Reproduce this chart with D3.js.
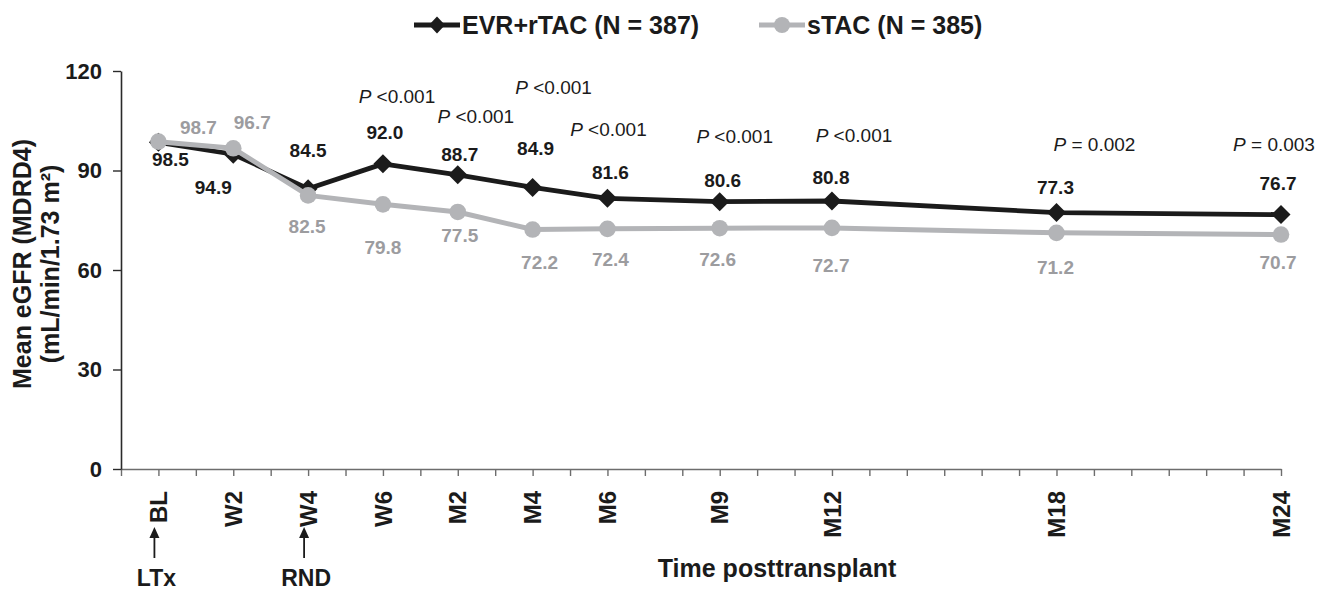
<!DOCTYPE html>
<html>
<head>
<meta charset="utf-8">
<script src="https://cdn.jsdelivr.net/npm/d3@7"></script>
<style>
  html, body { margin: 0; padding: 0; background: #fff; }
  svg { display: block; font-family: "Liberation Sans", Arial, Helvetica, sans-serif; }
</style>
</head>
<body>
<svg id="chart" width="1330" height="590"></svg>
<script>
// ---------------- data ----------------
const categories = ["BL", "W2", "W4", "W6", "M2", "M4", "M6", "M9", "M12", "M18", "M24"];
// position of each visit on the (piecewise) time axis, in axis units
const timeIndex = [0, 1, 2, 3, 4, 5, 6, 7.5, 9, 12, 15];
const evrValues = [98.5, 94.9, 84.5, 92.0, 88.7, 84.9, 81.6, 80.6, 80.8, 77.3, 76.7];
const stacValues = [98.7, 96.7, 82.5, 79.8, 77.5, 72.2, 72.4, 72.6, 72.7, 71.2, 70.7];
const pLabels = [null, null, null, "<0.001", "<0.001", "<0.001", "<0.001", "<0.001", "<0.001", "= 0.002", "= 0.003"];
const seriesNames = ["EVR+rTAC (N = 387)", "sTAC (N = 385)"];
const yTicks = [0, 30, 60, 90, 120];

// ---------------- layout (label placement, px) ----------------
const evrLabelOffset = [[12,17],[-20,33],[0,-38],[2,-31],[2,-20],[3,-39],[3,-26],[3,-21],[-1,-24],[-1,-25],[-3,-31]];
const stacLabelOffset = [[40,-14],[19,-26],[-1,31],[0,43],[2,24],[7,33],[3,31],[-2,31],[-1,38],[-1,35],[-3,28]];
const pLabelPos = [null,null,null,[14,96],[18,116],[21,87],[1,129],[15,136],[22,135],[38,144],[-7,144]];

const BLACK = "#1b1b1b";
const GRAY = "#b3b4b7";
const GRAY_TEXT = "#9c9c9f";

const svg = d3.select("#chart");
svg.append("rect").attr("width", 1330).attr("height", 590).attr("fill", "#fff");

const x = d3.scaleLinear().domain([-0.5, 15]).range([121, 1281]);
const y = d3.scaleLinear().domain([0, 120]).range([469, 71]);

// ---------------- axes ----------------
const halfTicks = d3.range(-0.5, 15.01, 0.5);
const xAxis = svg.append("g")
  .attr("transform", `translate(0,${y(0)})`)
  .call(d3.axisBottom(x).tickValues(halfTicks).tickSize(7).tickSizeOuter(0).tickFormat(""));
xAxis.select(".domain").attr("stroke", "#6d6d6d").attr("stroke-width", 1.6);
xAxis.selectAll(".tick line").attr("stroke", "#6d6d6d").attr("stroke-width", 1.4);

const yAxis = svg.append("g")
  .attr("transform", `translate(${x(-0.5)},0)`)
  .call(d3.axisLeft(y).tickValues(yTicks).tickSize(8).tickSizeOuter(0).tickPadding(11));
yAxis.select(".domain").attr("stroke", "#2a2a2a").attr("stroke-width", 1.6);
yAxis.selectAll(".tick line").attr("stroke", "#2a2a2a").attr("stroke-width", 1.4);
yAxis.selectAll(".tick text")
  .attr("font-family", "Liberation Sans, Arial, sans-serif")
  .attr("font-size", 22).attr("font-weight", "bold").attr("fill", BLACK);

// x category labels (rotated)
svg.append("g").selectAll("text").data(categories).join("text")
  .attr("transform", (d, i) => `translate(${x(timeIndex[i])},491) rotate(-90)`)
  .attr("text-anchor", "end")
  .attr("dy", "0.36em")
  .attr("font-size", 24).attr("font-weight", "bold").attr("fill", BLACK)
  .text(d => d);

// axis titles
svg.append("text")
  .attr("x", (x(-0.5) + x(15)) / 2 + 76).attr("y", 568)
  .attr("text-anchor", "middle").attr("dominant-baseline", "central")
  .attr("font-size", 25).attr("font-weight", "bold").attr("fill", BLACK)
  .text("Time posttransplant");

const yTitle = svg.append("g").attr("transform", `translate(0,${(y(0) + y(120)) / 2 - 6}) rotate(-90)`);
yTitle.append("text").attr("x", 0).attr("y", 22)
  .attr("text-anchor", "middle").attr("dominant-baseline", "central")
  .attr("font-size", 25).attr("font-weight", "bold").attr("fill", BLACK)
  .text("Mean eGFR (MDRD4)");
yTitle.append("text").attr("x", 0).attr("y", 50)
  .attr("text-anchor", "middle").attr("dominant-baseline", "central")
  .attr("font-size", 25).attr("font-weight", "bold").attr("fill", BLACK)
  .text("(mL/min/1.73 m²)");

// arrows LTx / RND
const arrowInfo = [{cat: 0, label: "LTx"}, {cat: 2, label: "RND"}];
const arrows = svg.append("g");
arrowInfo.forEach(a => {
  const ax = x(timeIndex[a.cat]) - 4;
  arrows.append("line").attr("x1", ax).attr("x2", ax).attr("y1", 536).attr("y2", 558)
    .attr("stroke", BLACK).attr("stroke-width", 1.8);
  arrows.append("path").attr("d", `M${ax},527 L${ax - 5},538 L${ax + 5},538 Z`).attr("fill", BLACK);
  arrows.append("text").attr("x", ax + 2).attr("y", 578)
    .attr("text-anchor", "middle").attr("dominant-baseline", "central")
    .attr("font-size", 23).attr("font-weight", "bold").attr("fill", BLACK)
    .text(a.label);
});

// ---------------- lines & markers ----------------
const line = d3.line().x((d, i) => x(timeIndex[i])).y(d => y(d));
const diamondPath = (hw, hh) => `M0,${-hh} L${hw},0 L0,${hh} L${-hw},0 Z`;

svg.append("path").datum(evrValues).attr("d", line)
  .attr("fill", "none").attr("stroke", BLACK).attr("stroke-width", 4.8).attr("stroke-linejoin", "round");
svg.append("g").selectAll("path").data(evrValues).join("path")
  .attr("d", diamondPath(9.5, 9.5))
  .attr("transform", (d, i) => `translate(${x(timeIndex[i])},${y(d)})`)
  .attr("fill", BLACK);

svg.append("path").datum(stacValues).attr("d", line)
  .attr("fill", "none").attr("stroke", GRAY).attr("stroke-width", 5).attr("stroke-linejoin", "round");
svg.append("g").selectAll("circle").data(stacValues).join("circle")
  .attr("cx", (d, i) => x(timeIndex[i])).attr("cy", d => y(d)).attr("r", 8.3)
  .attr("fill", GRAY);

// ---------------- value labels ----------------
svg.append("g").selectAll("text").data(evrValues).join("text")
  .attr("x", (d, i) => x(timeIndex[i]) + evrLabelOffset[i][0])
  .attr("y", (d, i) => y(d) + evrLabelOffset[i][1])
  .attr("text-anchor", "middle").attr("dominant-baseline", "central")
  .attr("font-size", 19).attr("font-weight", "bold").attr("fill", BLACK)
  .text(d => d.toFixed(1));

svg.append("g").selectAll("text").data(stacValues).join("text")
  .attr("x", (d, i) => x(timeIndex[i]) + stacLabelOffset[i][0])
  .attr("y", (d, i) => y(d) + stacLabelOffset[i][1])
  .attr("text-anchor", "middle").attr("dominant-baseline", "central")
  .attr("font-size", 19).attr("font-weight", "bold").attr("fill", GRAY_TEXT)
  .text(d => d.toFixed(1));

// P values
const pg = svg.append("g");
pLabels.forEach((p, i) => {
  if (!p) return;
  const t = pg.append("text")
    .attr("x", x(timeIndex[i]) + pLabelPos[i][0]).attr("y", pLabelPos[i][1])
    .attr("text-anchor", "middle").attr("dominant-baseline", "central")
    .attr("font-size", 19).attr("fill", BLACK);
  t.append("tspan").attr("font-style", "italic").text("P");
  t.append("tspan").text(" " + p);
});

// ---------------- legend ----------------
const legend = svg.append("g");
const legendItems = [
  {name: seriesNames[0], color: BLACK, type: "diamond", x0: 414},
  {name: seriesNames[1], color: GRAY, type: "circle", x0: 759}
];
legendItems.forEach(it => {
  legend.append("line").attr("x1", it.x0).attr("x2", it.x0 + 46).attr("y1", 25).attr("y2", 25)
    .attr("stroke", it.color).attr("stroke-width", 5);
  if (it.type === "diamond") {
    legend.append("path").attr("d", diamondPath(8, 8.5))
      .attr("transform", `translate(${it.x0 + 23},25)`).attr("fill", it.color);
  } else {
    legend.append("circle").attr("cx", it.x0 + 23).attr("cy", 25).attr("r", 8).attr("fill", it.color);
  }
  legend.append("text").attr("x", it.x0 + 48).attr("y", 25)
    .attr("dominant-baseline", "central")
    .attr("font-size", 25).attr("font-weight", "bold").attr("fill", BLACK)
    .text(it.name);
});
</script>
</body>
</html>
